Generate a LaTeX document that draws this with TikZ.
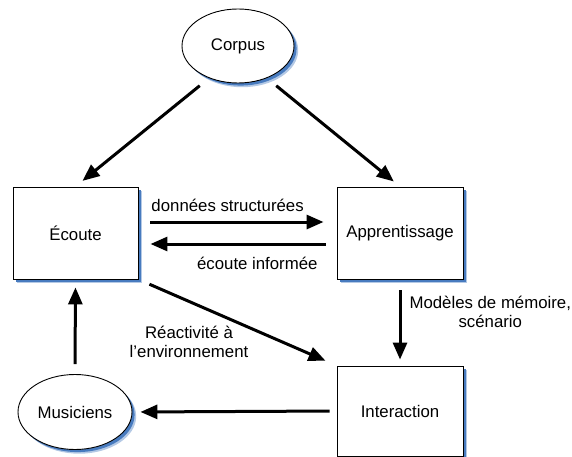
\documentclass[tikz,border=0pt]{standalone}
\usepackage{fontspec}
\setmainfont{Liberation Sans}
\usetikzlibrary{arrows.meta,shapes.geometric}
\definecolor{glowblue}{RGB}{40,100,180}
\begin{document}
\begin{tikzpicture}[x=1pt,y=-1pt,
  font=\fontsize{16.8}{19}\selectfont,
  box/.style={draw,line width=0.9pt,fill=white,minimum width=125pt,minimum height=92pt,inner sep=0pt},
  oval/.style={ellipse,draw,line width=0.9pt,fill=white,inner sep=0pt},
  glowfar/.style={fill=glowblue!35},
  glownear/.style={fill=glowblue!85},
  arr/.style={-{Triangle[length=17pt,width=14pt]},line width=3pt},
  lbl/.style={align=center,inner sep=0pt}]
\useasboundingbox (0,0) rectangle (572,457);

% soft blue shadows, drawn first so the shapes cover them
\foreach \cx/\cy/\w/\h in {75.5/233/125/92, 400/233/126/92, 400/411/126/90}{
  \fill[glowfar] (\cx-\w/2+4.2,\cy-\h/2+4.2) rectangle (\cx+\w/2+4.2,\cy+\h/2+4.2);
  \fill[glownear] (\cx-\w/2+2.6,\cy-\h/2+2.6) rectangle (\cx+\w/2+2.6,\cy+\h/2+2.6);
}
\foreach \cx/\cy/\rx/\ry in {238/46/56/37, 75/412/57/37.5}{
  \fill[glowfar] (\cx+4.2,\cy+4.2) ellipse [x radius=\rx, y radius=\ry];
  \fill[glownear] (\cx+2.6,\cy+2.6) ellipse [x radius=\rx, y radius=\ry];
}

% nodes
\node[oval,minimum width=112pt,minimum height=74pt] (corpus) at (238,46) {Corpus};
\node[box] (ecoute) at (75.5,233) {Écoute};
\node[box,minimum width=126pt] (appr) at (400,233) {Apprentissage};
\node[box,minimum width=126pt,minimum height=90pt] (inter) at (400,411) {Interaction};
\node[oval,minimum width=114pt,minimum height=75pt] (musi) at (75,412) {Musiciens};

% connectors
\draw[arr,shorten <=12pt,shorten >=9pt] (corpus.228) -- (ecoute.north);
\draw[arr,shorten <=12pt,shorten >=8pt] (corpus.312) -- (appr.north);
\draw[arr,shorten <=12pt,shorten >=13pt] ([yshift=11pt]ecoute.east) -- ([yshift=11pt]appr.west)
  node[lbl,pos=0.45,above=9pt] {données structurées};
\draw[arr,shorten <=11pt,shorten >=12pt] ([yshift=-11pt]appr.west) -- ([yshift=-11pt]ecoute.east)
  node[lbl,pos=0.4,below=12pt] {écoute informée};
\draw[arr,shorten <=11pt,shorten >=6pt] (appr.south) -- (inter.north)
  node[lbl,pos=0.38,right=8pt] {Modèles de mémoire,\\scénario};
\draw[arr,shorten <=12pt,shorten >=12pt] (ecoute.south east) -- (inter.north west);
\node[lbl] (reac) at (189,342) {Réactivité à\\l’environnement};
\draw[arr,shorten <=7pt,shorten >=8pt] (inter.west) -- (musi.east);
\draw[arr,shorten <=10pt,shorten >=8pt] (musi.north) -- (ecoute.south);
\end{tikzpicture}
\end{document}
